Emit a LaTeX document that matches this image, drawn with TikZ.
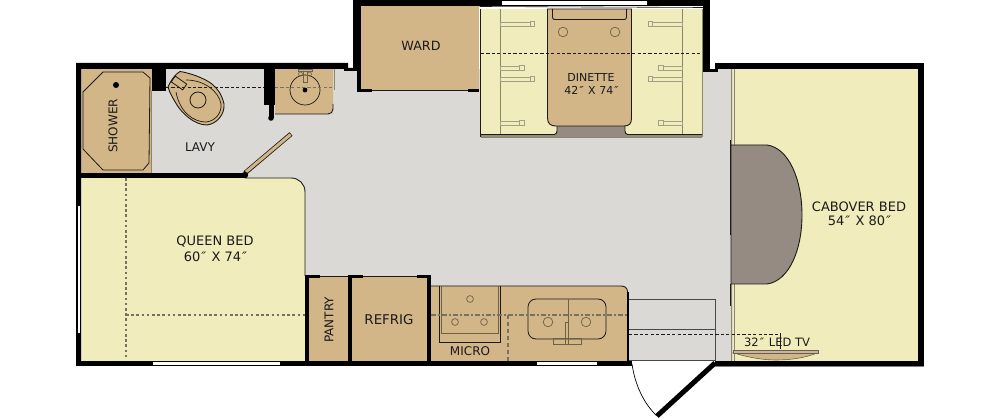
\documentclass[tikz,border=0pt]{standalone}
\usepackage{fontspec}
\setmainfont{DejaVu Sans}
\newcommand{\dprime}{\kern1.1pt{\itshape ″}\kern1.1pt}
\definecolor{tan}{HTML}{D3B688}
\definecolor{bedy}{HTML}{F1ECBB}
\definecolor{floorg}{HTML}{DAD9D5}
\definecolor{taupe}{HTML}{958B83}
\definecolor{olive}{HTML}{8A8768}
\definecolor{ink}{HTML}{1A1A1A}
\definecolor{dashg}{HTML}{77715F}
\definecolor{fix}{HTML}{6E6246}
\tikzset{
 lbl/.style={text=ink,inner sep=0pt,align=center,font=\fontsize{#1}{14}\selectfont},
 lbl/.default=12,
 wall/.style={fill=black,draw=none},
 dashk/.style={draw=ink,line width=0.9pt,dash pattern=on 3.2pt off 2.2pt},
 dashb/.style={draw=dashg,line width=1.3pt,dash pattern=on 2.6pt off 2.6pt},
 ring/.style={draw=fix,line width=0.7pt},
 belt/.style={draw=olive!80,line width=0.7pt,fill=bedy},
}
\begin{document}
\begin{tikzpicture}[x=1pt,y=-1pt]
\useasboundingbox (0,0) rectangle (1000,419);
% floor
\fill[floorg] (81,69) rectangle (733,361);
% cabover
\fill[bedy] (733,69) rectangle (918,361);
\draw[olive,line width=1pt] (731.5,69) -- (731.5,361);
\draw[olive,line width=1pt] (734.5,69) -- (734.5,361);
\fill[taupe,draw=ink,line width=0.9pt] (731,145) -- (767,145) .. controls (789,148) and (802,180) .. (802,215) .. controls (802,250) and (789,281) .. (767,284) -- (731,284) -- cycle;
\draw[ink,line width=1pt] (730.5,140) -- (730.5,235);
\draw[ink,line width=1pt] (730.5,284) -- (730.5,306);
% shower
\fill[tan] (81,69) rectangle (151.5,174);
\draw[ink,line width=0.8pt] (83,92) -- (103,72) -- (143,72) -- (150,78) -- (149,163) -- (143,170) -- (103,170) -- (83,149) -- cycle;
\draw[olive,line width=1pt] (151.5,91) -- (151.5,174);
\fill[black] (116,85) circle (3);
% toilet
\fill[tan,draw=ink,line width=0.9pt] (180,71.5) .. controls (175,74) and (170,82) .. (168,87) .. controls (170,94) and (174,100) .. (177,105) .. controls (182,113) and (194,125) .. (207,125) .. controls (216,124) and (225,115) .. (224,104) .. controls (222,95) and (218,89) .. (212,84) .. controls (204,78) and (190,73) .. (180,71.5) -- cycle;
\draw[ink,line width=0.7pt] (176,92) .. controls (180,113) and (194,122) .. (206,122) .. controls (216,121) and (222,112) .. (221,104) .. controls (219,92) and (205,80) .. (186,80);
\draw[ink,line width=0.8pt,rotate around={-35:(179,83)}] (172,79.5) rectangle (186,86.5);
\draw[ink,line width=0.8pt] (198,100) circle (8);
% lav sink
\fill[tan] (275,69) -- (333,69) -- (333,109) .. controls (333,112) and (331,114) .. (328,114) -- (275,114) -- cycle;
\draw[ink,line width=0.9pt] (275,114) -- (328,114) .. controls (331,114) and (333,112) .. (333,109) -- (333,104);
\draw[olive,line width=1pt] (334.5,69) -- (334.5,90);
\draw[ink,line width=0.7pt] (305,90) circle (15);
\fill[black] (305,90) circle (2.4);
\draw[fix,line width=0.6pt] (298,69) rectangle (312,71);
\draw[fix,line width=0.6pt] (303,71) rectangle (307,82);
\draw[fix,line width=0.6pt] (300.5,74) circle (2) (309.5,74) circle (2);
\draw[dashk] (166,87.5) -- (264,87.5);
\draw[dashk,draw=dashg] (275,87.5) -- (333,87.5);
% door partition
\draw[ink,line width=4.6pt] (245,173) -- (291,134);
\draw[tan,line width=3pt] (246,172) -- (290.5,134.5);
% ward
\fill[tan] (361,6) rectangle (479,90);
\draw[ink,line width=0.9pt] (361,90) -- (479,90);
% dinette
\fill[white] (479,6) rectangle (703,9);
\fill[bedy] (481,9) rectangle (702,135);
\fill[taupe] (481,134) rectangle (702,137.5);
\draw[olive,line width=0.8pt] (481,137.5) -- (702,137.5);
\draw[ink,line width=0.6pt] (479.5,6.5) -- (703,7.5);
\draw[ink,line width=0.8pt] (480,9) -- (480,137);
\draw[olive,line width=1pt] (702,9) -- (702,137);
\fill[taupe] (557,124) rectangle (625,135);
\draw[ink,line width=0.9pt] (481,134.5) -- (554,134.5) .. controls (556,134.5) and (557,133) .. (557,131) -- (557,126);
\draw[ink,line width=0.9pt] (702,134.5) -- (628,134.5) .. controls (626,134.5) and (625,133) .. (625,131) -- (625,126);
\fill[tan,draw=ink,line width=0.9pt] (547.5,9) -- (547.5,118) .. controls (547.5,124) and (551,126) .. (556,126) -- (624,126) .. controls (629,126) and (631.5,124) .. (631.5,118) -- (631.5,9) -- cycle;
\draw[ink,line width=0.9pt] (552.5,9) -- (552.5,17) .. controls (552.5,19) and (553.5,19.5) .. (555,19.5) -- (624,19.5) .. controls (625.5,19.5) and (626.5,19) .. (626.5,17) -- (626.5,9);
\draw[ring] (563,32) circle (4.8) (615,32) circle (4.8);
\draw[olive,line width=1pt] (500,9) -- (500,134);
\draw[olive,line width=1pt] (682,9) -- (682,134);
% belts
\foreach \yy in {24,79}{
 \draw[belt] (500,\yy-2) rectangle (530,\yy+2);
 \draw[belt] (530,\yy-2.5) rectangle (534,\yy+2.5);
 \draw[belt] (652,\yy-2) rectangle (682,\yy+2);
 \draw[belt] (648,\yy-2.5) rectangle (652,\yy+2.5);
}
\foreach \yy in {68,123}{
 \draw[belt] (500,\yy-2) rectangle (519,\yy+2);
 \draw[belt] (519,\yy-2.5) rectangle (524,\yy+2.5);
 \draw[belt] (663,\yy-2) rectangle (682,\yy+2);
 \draw[belt] (658,\yy-2.5) rectangle (663,\yy+2.5);
}
\draw[dashk] (481,53.5) -- (702,53.5);
% queen bed
\fill[bedy] (81,178) -- (291,178) .. controls (299,178) and (305,184) .. (305,192) -- (305,361) -- (81,361) -- cycle;
\draw[ink,line width=0.9pt] (245,178) -- (291,178) .. controls (299,178) and (305,184) .. (305,192) -- (305,276);
\draw[dashb] (126,178) -- (126,358);
\draw[dashb] (126,315) -- (305,315);
% galley
\fill[tan] (308,277) rectangle (348,361);
\fill[tan] (352,277) rectangle (427,361);
\fill[tan] (431,286) -- (621,286) .. controls (625,286) and (627,288) .. (627,292) -- (627,361) -- (431,361) -- cycle;
\draw[ink,line width=0.9pt] (431,286) -- (621,286) .. controls (625,286) and (627.5,288) .. (627.5,292);
\draw[ink,line width=0.9pt] (439.5,286) -- (439.5,342) -- (500.5,342) -- (500.5,286);
\draw[fix,line width=1.1pt] (441.5,286) -- (441.5,333.5) -- (498.5,333.5) -- (498.5,286);
\draw[ring] (470,299) circle (3.4) (455,322) circle (3.4) (484,322) circle (3.4);
\draw[ink,line width=0.8pt,rounded corners=8pt] (528,299) rectangle (606,339);
\draw[fix,line width=0.7pt] (568,299) -- (568,339);
\draw[ring] (548,322) circle (4.8) (586,322) circle (4.8);
\draw[fix,line width=0.6pt] (553.5,338) rectangle (581,344);
\draw[fix,line width=0.6pt] (565.5,322) rectangle (568.5,344);
\draw[dashg,line width=1.2pt,dash pattern=on 5pt off 2pt on 2pt off 2pt] (431,315) -- (627,315);
\draw[dashg,line width=1.1pt,dash pattern=on 4pt off 3pt] (508,315) -- (508,361);
% step
\draw[ink!80,line width=0.8pt] (629,299) -- (715.5,299) -- (715.5,361);
\draw[ink!80,line width=0.8pt] (629,329.5) -- (715.5,329.5);
\draw[ink!80,line width=0.8pt] (629,360.5) -- (715.5,360.5);
\draw[dashk,line width=0.7pt] (629,334.5) -- (780,334.5);
\draw[ink,line width=0.6pt] (780,333) -- (780,349);
% TV
\fill[tan,draw=ink!70,line width=0.6pt] (734,353) .. controls (750,358) and (765,360) .. (776,360) .. controls (790,360) and (805,358) .. (817,353) -- cycle;
\fill[tan,draw=ink!70,line width=0.6pt] (733.5,350.5) rectangle (818.5,353.5);
% walls
\fill[wall] (76,63) -- (348,63) -- (348,68) -- (353,68) -- (353,71) -- (344,71) -- (344,69) -- (81,69) -- (81,361) -- (76,361) -- cycle;
\fill[wall] (76,361) rectangle (632,366);
\fill[wall] (715,361) rectangle (924,366);
\draw[gray,line width=0.6pt] (715,366.5) -- (924,366.5);
\fill[wall] (76,173) rectangle (245,178);
\fill[black] (245,175) circle (3.2);
\fill[wall] (152,69) rectangle (166,91);
\fill[wall] (264,69) rectangle (275,105);
\fill[wall] (269,105) rectangle (274,118);
\fill[black] (271,118) circle (2.8);
\fill[wall] (353,0) rectangle (361,69);
\fill[wall] (357,69) rectangle (361,92);
\fill[wall] (353,68) rectangle (358,71);
\fill[wall] (357,89) rectangle (372,92);
\fill[wall] (468,89) rectangle (479,92);
\fill[wall] (353,0) rectangle (710,6);
\fill[wall] (703,0) rectangle (710,69);
\fill[wall] (703,69) rectangle (718,72);
\fill[wall] (715,63) rectangle (924,69);
\fill[wall] (918,63) rectangle (924,366);
\fill[wall] (305,276) rectangle (308.5,361);
\fill[wall] (348,276) rectangle (352,361);
\fill[wall] (427,276) rectangle (431,361);
\fill[wall] (305,275) rectangle (320,278);
\fill[wall] (348,275) rectangle (363,278);
\fill[wall] (417,275) rectangle (431,278);
\draw[ink,line width=0.8pt] (320,276.5) -- (348,276.5) (363,276.5) -- (417,276.5);
\fill[wall] (627,292) rectangle (629,361);
% windows
\fill[white] (502,1) rectangle (647,5);
\fill[white] (77.5,206) rectangle (80,333);
\fill[white] (153,362) rectangle (280,365);
\fill[white] (537,362) rectangle (597,365);
% door
\draw[black,line width=5pt] (715,363) -- (657,416);
\draw[black,line width=0.7pt] (632,364) .. controls (635,385) and (644,404) .. (657,416);
% labels
\node[lbl=12,rotate=90] (shower) at (113,126) {SHOWER};
\node[lbl=12] (lavy) at (200,147) {LAVY};
\node[lbl=12.7] (ward) at (421,46) {WARD};
\node[lbl=11] (dinette) at (591,77) {DINETTE};
\node[lbl=11] (dinsize) at (592,90) {42\dprime{} X 74\dprime};
\node[lbl=13] (queen) at (215,242) {QUEEN BED};
\node[lbl=13] (queensize) at (216,257) {60\dprime{} X 74\dprime};
\node[lbl=13] (cab) at (859,207) {CABOVER BED};
\node[lbl=13] (cabsize) at (860,221) {54\dprime{} X 80\dprime};
\node[lbl=12,rotate=90] (pantry) at (329,320) {PANTRY};
\node[lbl=13.4] (refrig) at (389,320) {REFRIG};
\node[lbl=12] (micro) at (470,351) {MICRO};
\node[lbl=11.5] (tv) at (777,342) {32\dprime{} LED TV};
\end{tikzpicture}
\end{document}
